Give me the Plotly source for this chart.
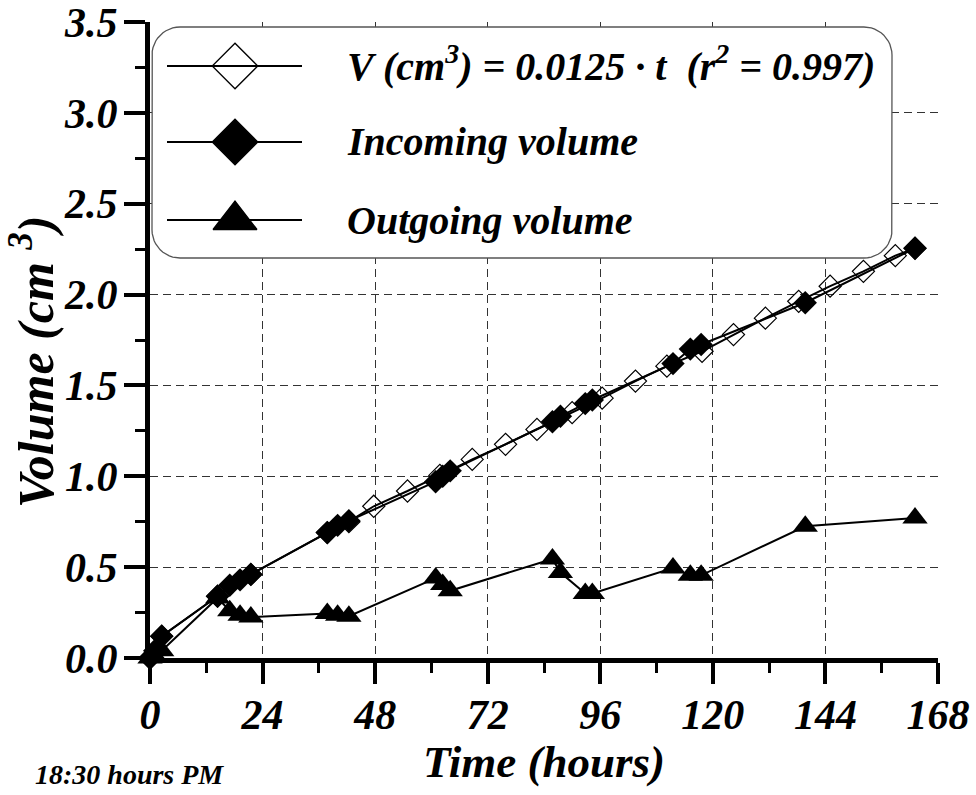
import math
import plotly.graph_objects as go

# ---------------- data ----------------
t_meas = [0, 1, 2.5, 14.4, 17.0, 19.2, 21.5, 37.8, 40.0, 42.4, 60.9, 62.4, 64.0,
          85.8, 87.5, 92.8, 94.3, 111.5, 115.2, 117.5, 139.7, 163.1]
incoming = [0.0, 0.04, 0.12, 0.34, 0.40, 0.43, 0.46, 0.69, 0.73, 0.755, 0.97, 1.0, 1.03,
            1.30, 1.33, 1.40, 1.42, 1.62, 1.70, 1.725, 1.955, 2.255]
outgoing = [0.0, 0.01, 0.04, 0.33, 0.26, 0.235, 0.225, 0.245, 0.235, 0.23, 0.44, 0.405, 0.37,
            0.545, 0.47, 0.355, 0.355, 0.495, 0.455, 0.455, 0.725, 0.77]

t_fit = [0, 2.5, 14.4, 21.5, 37.8, 42.4, 47.7, 54.9, 61.8, 68.7, 75.8, 82.5, 90.0, 96.4,
         103.5, 110.2, 117.7, 124.4, 131.2, 138.3, 145.0, 152.1, 158.9, 163.1]
v_fit = [0.0, 0.12, 0.34, 0.46, 0.69, 0.75, 0.835, 0.919, 1.005, 1.093, 1.176, 1.258, 1.35, 1.43,
         1.524, 1.606, 1.688, 1.78, 1.87, 1.963, 2.046, 2.128, 2.214, 2.255]

legend_names = ["V (cm<sup>3</sup>) = 0.0125 · t \u00a0(r<sup>2</sup> = 0.997)",
                "Incoming volume", "Outgoing volume"]
legend_symbols = ["diamond-open", "diamond", "triangle-up"]
legend_sizes = [35, 35, 38]

x_ticks = [0, 24, 48, 72, 96, 120, 144, 168]
y_ticks = [0.0, 0.5, 1.0, 1.5, 2.0, 2.5, 3.0, 3.5]

FONT = "Liberation Serif"
W, H = 976, 795
L, R, T, B = 150, 38, 22, 137
PW, PH = W - L - R, H - T - B


def px2paper(px, py):
    return (px - L) / PW, (H - B - py) / PH


def bfont(size):
    return dict(family=FONT, size=size, color="black", weight="bold", style="italic")


fig = go.Figure()

# ---------------- data traces ----------------
fig.add_trace(go.Scatter(x=t_meas, y=outgoing, mode="lines+markers",
                         line=dict(color="black", width=2),
                         marker=dict(symbol="triangle-up", size=22, color="black"),
                         cliponaxis=False, showlegend=False))
fig.add_trace(go.Scatter(x=t_fit, y=v_fit, mode="lines+markers",
                         line=dict(color="black", width=2),
                         marker=dict(symbol="diamond-open", size=17, color="black",
                                     line=dict(width=1.2, color="black")),
                         cliponaxis=False, showlegend=False))
fig.add_trace(go.Scatter(x=t_meas, y=incoming, mode="lines+markers",
                         line=dict(color="black", width=2),
                         marker=dict(symbol="diamond", size=18, color="black"),
                         cliponaxis=False, showlegend=False))

# ---------------- custom legend (helper axis in pixel units) ----------------
bx0, bx1, by0, by1, rad = 152, 892, 27, 258, 28
corners = [(bx1 - rad, by0 + rad, -90, 0), (bx1 - rad, by1 - rad, 0, 90),
           (bx0 + rad, by1 - rad, 90, 180), (bx0 + rad, by0 + rad, 180, 270)]
box_x, box_y = [], []
for cx, cy, a0, a1 in corners:
    for k in range(13):
        a = math.radians(a0 + (a1 - a0) * k / 12)
        box_x.append(cx + rad * math.cos(a))
        box_y.append(cy + rad * math.sin(a))
box_x.append(box_x[0])
box_y.append(box_y[0])
fig.add_trace(go.Scatter(x=box_x, y=box_y, mode="lines", fill="toself", fillcolor="white",
                         line=dict(color="#555", width=1.3), xaxis="x2", yaxis="y2",
                         showlegend=False, hoverinfo="skip", cliponaxis=False))

row_px = [66, 142, 220]
text_row_px = [63, 142, 220]
key_x0, key_xm, key_x1, text_x = 167, 235, 302, 345
for name, sym, sz, ry in zip(legend_names, legend_symbols, legend_sizes, row_px):
    fig.add_trace(go.Scatter(x=[key_x0, key_x1], y=[ry, ry], mode="lines",
                             xaxis="x2", yaxis="y2", line=dict(color="black", width=2),
                             showlegend=False, hoverinfo="skip", cliponaxis=False))
    fig.add_trace(go.Scatter(x=[key_xm], y=[ry], mode="markers",
                             xaxis="x2", yaxis="y2",
                             marker=dict(symbol=sym, size=sz, color="black",
                                         line=dict(width=1.3, color="black")),
                             showlegend=False, hoverinfo="skip", cliponaxis=False))

annotations = []
for name, ry in zip(legend_names, text_row_px):
    x, y = px2paper(text_x, ry)
    annotations.append(dict(text=name, x=x, y=y, xref="paper", yref="paper",
                            xanchor="left", yanchor="middle", showarrow=False,
                            font=bfont(40)))

# axis titles and note
x, y = px2paper(544, 762)
annotations.append(dict(text="Time (hours)", x=0.5, y=y, xref="paper", yref="paper",
                        xanchor="center", yanchor="middle", showarrow=False, font=bfont(45)))
x, y = px2paper(32, 362)
annotations.append(dict(text="Volume (cm\u00a0<sup>3</sup>)", x=x, y=y, xref="paper",
                        yref="paper", xanchor="center", yanchor="middle", showarrow=False,
                        textangle=-90, font=bfont(50)))
x, y = px2paper(33, 774)
annotations.append(dict(text="18:30 hours PM", x=x, y=y, xref="paper", yref="paper",
                        xanchor="left", yanchor="middle", showarrow=False, font=bfont(28)))

grid = dict(showgrid=True, gridcolor="#333", griddash="8px,5px", gridwidth=1)

fig.update_layout(
    template="none",
    width=W, height=H, margin=dict(l=L, r=R, t=T, b=B, autoexpand=False),
    paper_bgcolor="white", plot_bgcolor="rgba(0,0,0,0)",
    font=dict(family=FONT, color="black"),
    showlegend=False,
    xaxis=dict(range=[0, 168], tickvals=x_ticks, ticktext=[str(v) for v in x_ticks],
               ticks="outside", ticklen=21, tickwidth=4, tickcolor="black",
               showline=True, linewidth=5, linecolor="black", zeroline=False,
               tickfont=bfont(42), layer="below traces", automargin=False,
               ticklabelstandoff=-5, ticklabeloverflow="allow",
               minor=dict(ticks="outside", ticklen=10, tickwidth=3, tickcolor="black",
                          dtick=12, tick0=0, showgrid=False),
               **grid),
    yaxis=dict(range=[0, 3.5], tickvals=y_ticks, ticktext=[f"{v:.1f}" for v in y_ticks],
               ticks="outside", ticklen=21, tickwidth=4, tickcolor="black",
               showline=True, linewidth=5, linecolor="black", zeroline=False,
               tickfont=bfont(42), layer="below traces", automargin=False,
               ticklabelstandoff=-2, ticklabeloverflow="allow",
               minor=dict(ticks="outside", ticklen=10, tickwidth=3, tickcolor="black",
                          dtick=0.25, tick0=0, showgrid=False),
               **grid),
    xaxis2=dict(domain=[0, 1], range=[L, W - R], visible=False, anchor="y2",
                fixedrange=True, showgrid=False, zeroline=False),
    yaxis2=dict(domain=[0, 1], range=[H - B, T], visible=False, anchor="x2",
                fixedrange=True, showgrid=False, zeroline=False),
    annotations=annotations,
)

fig.write_html("out.html", config={"displayModeBar": False},
               post_script="document.body.style.margin='0';")
